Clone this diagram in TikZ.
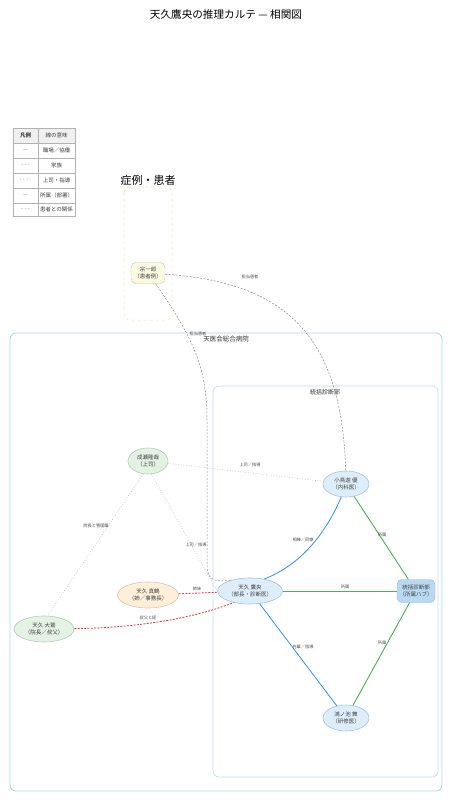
\documentclass[tikz,border=0pt]{standalone}
\usepackage{fontspec}
\setmainfont{Noto Sans CJK JP}
\usetikzlibrary{shapes.geometric}

\definecolor{linkblue}{HTML}{2F8FE8}
\definecolor{linkgreen}{HTML}{4CAF50}
\definecolor{linkred}{HTML}{E53935}
\definecolor{linkgray}{HTML}{8A8A8A}
\definecolor{dotgray}{HTML}{B4B4B4}
\definecolor{hospline}{HTML}{A9D2F5}
\definecolor{deptline}{HTML}{BBDDF7}
\definecolor{caseline}{HTML}{F7E3A1}
\definecolor{bluefill}{HTML}{DDEEFA}
\definecolor{blueedge}{HTML}{A6C3DB}
\definecolor{greenfill}{HTML}{E3F2E3}
\definecolor{greenedge}{HTML}{B5CCB5}
\definecolor{orangefill}{HTML}{FDEFD9}
\definecolor{orangeedge}{HTML}{D9C6AA}
\definecolor{yellowfill}{HTML}{FBF9E1}
\definecolor{yellowedge}{HTML}{C9C7A0}
\definecolor{hubfill}{HTML}{B9D9F3}
\definecolor{hubedge}{HTML}{8FB7DB}

\begin{document}
\begin{tikzpicture}[x=1pt,y=-1pt,
  person/.style={ellipse, draw=blueedge, fill=bluefill, line width=0.6pt, inner sep=0pt,
    align=center, text=black!75, font=\fontsize{5.5}{6.8}\selectfont},
  elabel/.style={inner sep=0.5pt, text=black!70, font=\fontsize{4.2}{5}\selectfont},
  cluster/.style={inner sep=0pt, text=black!80, font=\fontsize{6.5}{7.5}\selectfont},
  work/.style={draw=linkblue, line width=0.8pt},
  family/.style={draw=linkred, dash pattern=on 2pt off 1.3pt, line width=0.8pt},
  boss/.style={draw=dotgray, dotted, line width=0.6pt},
  member/.style={draw=linkgreen, line width=0.9pt},
  patient/.style={draw=linkgray, dash pattern=on 2pt off 1.5pt, line width=0.5pt},
  legendtext/.style={inner sep=0pt, text=black!75, font=\fontsize{5.5}{6.5}\selectfont}]

% Page and title
\fill[white] (0,0) rectangle (453,810);
\useasboundingbox (0,0) rectangle (453,810);
\node[font=\fontsize{10.6}{12}\selectfont] (title) at (226,14) {天久鷹央の推理カルテ — 相関図};

% Legend table
\fill[gray!12] (13,128) rectangle (75,143);
\draw[gray!60, line width=0.5pt] (13,128) rectangle (75,216);
\draw[gray!60, line width=0.5pt] (38,128) -- (38,216);
\draw[gray!60, line width=0.5pt] (13,143) -- (75,143);
\draw[gray!60, line width=0.5pt] (13,158) -- (75,158);
\draw[gray!60, line width=0.5pt] (13,173) -- (75,173);
\draw[gray!60, line width=0.5pt] (13,188) -- (75,188);
\draw[gray!60, line width=0.5pt] (13,203) -- (75,203);
\node[legendtext, font=\fontsize{5.5}{6.5}\selectfont\bfseries] (lghead) at (25.5,135.5) {凡例};
\node[legendtext] (lgmeaning) at (56.5,135.5) {線の意味};
\node[legendtext, text=linkblue] (lgwork) at (25.5,150.5) {—};
\node[legendtext] (lgworktext) at (56.5,150.5) {職場／協働};
\node[legendtext, text=linkred] (lgfamily) at (25.5,165.5) {- - -};
\node[legendtext] (lgfamilytext) at (56.5,165.5) {家族};
\node[legendtext, text=black!80] (lgboss) at (25.5,180.5) {····};
\node[legendtext] (lgbosstext) at (56.5,180.5) {上司・指導};
\node[legendtext, text=linkgreen] (lgmember) at (25.5,195.5) {—};
\node[legendtext] (lgmembertext) at (56.5,195.5) {所属（部署）};
\node[legendtext, text=linkgray] (lgpatient) at (25.5,209.5) {- - -};
\node[legendtext] (lgpatienttext) at (56.5,209.5) {患者との関係};

% Clusters
\draw[caseline, dashed, line width=0.5pt, rounded corners=6pt] (124,187) rectangle (172,320);
\node[font=\fontsize{11}{13}\selectfont] (caselabel) at (148,180) {症例・患者};
\draw[hospline, line width=0.8pt, rounded corners=6pt] (10,333) rectangle (442,791);
\node[cluster] (hosplabel) at (226,339) {天医会総合病院};
\draw[deptline, line width=0.6pt, rounded corners=6pt] (213,386) rectangle (438,777);
\node[cluster, font=\fontsize{6}{7}\selectfont] (deptlabel) at (325,392) {統括診断部};

% People
\node[draw=yellowedge, fill=yellowfill, rounded corners=5pt, minimum width=34pt, minimum height=21pt,
  inner sep=0pt, align=center, text=black!75, font=\fontsize{5.5}{6.8}\selectfont]
  (soichiro) at (148,273) {宗一郎\\（患者例）};
\node[person, draw=greenedge, fill=greenfill, minimum width=40pt, minimum height=26pt]
  (naruse) at (148,461) {成瀬隆哉\\（上司）};
\node[person, minimum width=46pt, minimum height=26pt] (kotori) at (346,484) {小鳥遊 優\\（内科医）};
\node[person, minimum width=65pt, minimum height=26pt] (takao) at (250,591) {天久 鷹央\\（部長・診断医）};
\node[draw=hubedge, fill=hubfill, rounded corners=5pt, minimum width=38pt, minimum height=23pt,
  inner sep=0pt, align=center, text=black!75, font=\fontsize{5.5}{6.8}\selectfont]
  (hub) at (416,591) {統括診断部\\（所属ハブ）};
\node[person, minimum width=46pt, minimum height=26pt] (konoike) at (346,718) {鴻ノ池 舞\\（研修医）};
\node[person, draw=orangeedge, fill=orangefill, minimum width=61pt, minimum height=26pt]
  (mazuru) at (148,595) {天久 真鶴\\（姉／事務長）};
\node[person, draw=greenedge, fill=greenfill, minimum width=60pt, minimum height=26pt]
  (owashi) at (44,629) {天久 大鷲\\（院長／叔父）};

% Patient links
\draw[patient] (soichiro) .. controls (280,282) and (342,330) .. (kotori)
  node[elabel, at={(250,277)}] {担当患者};
\draw[patient] (soichiro) .. controls (195,340) and (207,370) .. (207,420) -- (207,565)
  .. controls (207,578) and (212,583) .. (takao.150)
  node[elabel, at={(198,334)}] {担当患者};

% Boss links
\draw[boss] (naruse) -- (kotori) node[elabel, at={(250,465)}] {上司／指導};
\draw[boss] (naruse.-75) -- (takao.west) node[elabel, at={(196,545)}] {上司／指導};
\draw[boss] (naruse.250) -- (owashi.75) node[elabel, at={(96,526)}] {院長と管理職};

% Work links
\draw[work] (kotori.250) .. controls (325,535) and (300,565) .. (takao.40)
  node[elabel, at={(303,540)}] {相棒／同僚};
\draw[work] (takao) -- (konoike) node[elabel, at={(303,647)}] {先輩／指導};

% Department links
\draw[member] (kotori) -- (hub) node[elabel, at={(382,535)}] {所属};
\draw[member] (takao.east) -- (hub.west) node[elabel, at={(345,587)}] {所属};
\draw[member] (konoike) -- (hub) node[elabel, at={(382,643)}] {所属};

% Family links
\draw[family] (mazuru) -- (takao) node[elabel, at={(197,589)}] {姉妹};
\draw[family] (owashi) .. controls (130,628) and (190,620) .. (takao.215)
  node[elabel, at={(148,618)}] {叔父と姪};

\end{tikzpicture}
\end{document}
